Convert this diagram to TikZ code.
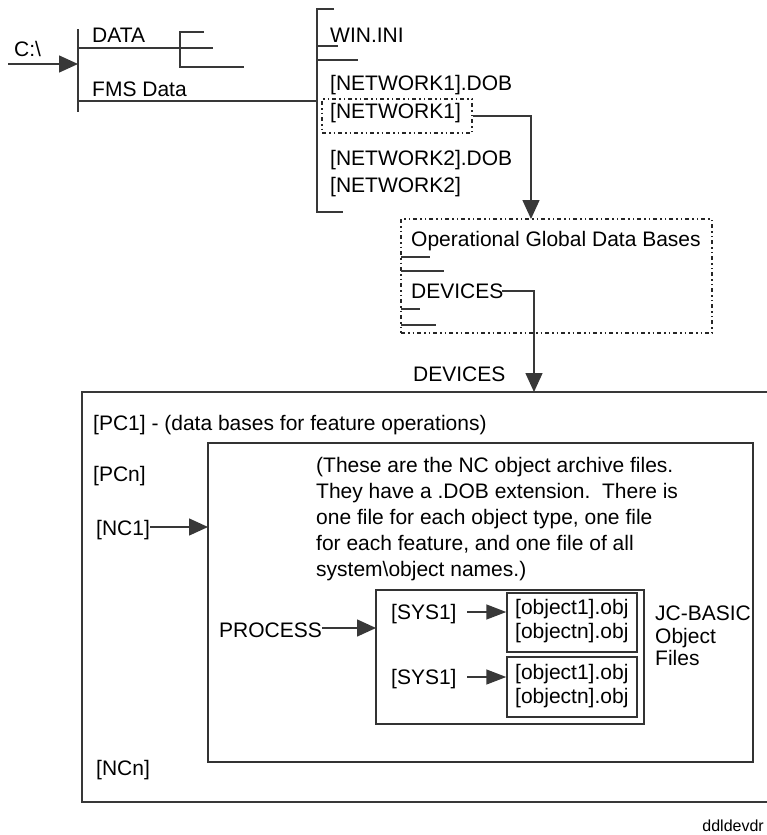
\documentclass[tikz,border=0pt]{standalone}
\usepackage{fontspec}
\setmainfont{Liberation Sans}
\usetikzlibrary{arrows.meta}
\begin{document}
\begin{tikzpicture}[x=1pt,y=-1pt,
  lbl/.style={anchor=base west, inner sep=0pt, font=\fontsize{21}{25}\selectfont},
  ln/.style={line width=1.5pt, draw=black!78},
  arr/.style={ln, -{Triangle[length=19pt,width=17pt]}},
  sarr/.style={ln, -{Triangle[length=20pt,width=15pt]}},
  dotbox/.style={line width=1.4pt, draw=black!85, inner sep=0pt,
    dash pattern=on 4pt off 3pt on 1.5pt off 3pt on 1.5pt off 3pt},
  frame/.style={line width=1.5pt, draw=black!80, inner sep=0pt}]

\useasboundingbox (0,0) rectangle (767,835);

% ---- drive root ----
\node[lbl] (drive) at (14,56) {C:\textbackslash};
\coordinate (rootin) at (8,64);
\coordinate (rootbar) at (78,64);
\draw[arr] (rootin) -- (rootbar);
\draw[ln] (78,29) -- (78,112);

% DATA branch
\node[lbl] (data) at (92,42) {DATA};
\draw[ln] (78,48) -- (213,48);
\draw[ln] (204,32) -- (180,32) -- (180,67) -- (244,67);

% FMS Data branch
\node[lbl] (fms) at (92,96) {FMS Data};
\draw[ln] (78,101) -- (317,101);

% ---- FMS Data contents ----
\draw[ln] (334,9) -- (317,9) -- (317,212) -- (343,212);
\draw[ln] (317,46) -- (338,46);
\draw[ln] (317,60) -- (358,60);
\node[lbl] (win) at (330,42) {WIN.INI};
\node[lbl] (n1dob) at (330,90) {[NETWORK1].DOB};
\node[dotbox, minimum width=150pt, minimum height=34pt] (n1box) at (397,116) {};
\node[lbl] (n1) at (330,118) {[NETWORK1]};
\node[lbl] (n2dob) at (330,165) {[NETWORK2].DOB};
\node[lbl] (n2) at (330,192) {[NETWORK2]};

% ---- operational global data bases ----
\node[dotbox, minimum width=311pt, minimum height=114pt] (ogdb) at (556.5,276) {};
\node[lbl] (ogdbtxt) at (411,246) {Operational Global Data Bases};
\draw[ln] (401,257) -- (430,257);
\draw[ln] (401,271) -- (444,271);
\draw[ln] (401,309) -- (420,309);
\draw[ln] (401,325) -- (436,325);
\node[lbl] (dev) at (411,298) {DEVICES};

\coordinate (n1drop) at (531,219);
\draw[arr] (n1box.east) -| (n1drop);

% ---- devices ----
\node[lbl] (devlbl) at (413,381) {DEVICES};
\coordinate (devout) at (502,291);
\coordinate (devdrop) at (534,392);
\draw[arr] (devout) -| (devdrop);

\draw[ln] (767,392) -- (82,392) -- (82,802) -- (767,802);
\node[lbl] (pc1) at (93,430) {[PC1] - (data bases for feature operations)};
\node[lbl] (pcn) at (93,481) {[PCn]};
\node[lbl] (nc1) at (96,535) {[NC1]};
\node[lbl] (ncn) at (96,775) {[NCn]};

% ---- NC object archive ----
\node[frame, minimum width=545pt, minimum height=319pt] (archive) at (480.5,602.5) {};
\coordinate (nc1out) at (150,527);
\coordinate (archin) at (208,527);
\draw[arr] (nc1out) -- (archin);

\node[lbl] (note1) at (316,472) {(These are the NC object archive files.};
\node[lbl] (note2) at (316,498) {They have a .DOB extension.\ \ There is};
\node[lbl] (note3) at (316,524) {one file for each object type, one file};
\node[lbl] (note4) at (316,550) {for each feature, and one file of all};
\node[lbl] (note5) at (316,576) {system\textbackslash object names.)};

% ---- process / systems ----
\node[lbl] (proc) at (219,637) {PROCESS};
\node[frame, minimum width=268pt, minimum height=134pt] (sysbox) at (510,657) {};
\coordinate (procout) at (322,628);
\coordinate (sysin) at (376,628);
\draw[arr] (procout) -- (sysin);

\node[frame, minimum width=130pt, minimum height=59pt] (obja) at (572,622.5) {};
\node[frame, minimum width=130pt, minimum height=60pt] (objb) at (572,687) {};
\node[lbl] at (515,614) {[object1].obj};
\node[lbl] at (515,638) {[objectn].obj};
\node[lbl] at (515,679) {[object1].obj};
\node[lbl] at (515,703) {[objectn].obj};

\node[lbl] (sysa) at (391,619) {[SYS1]};
\node[lbl] (sysb) at (391,684) {[SYS1]};
\coordinate (sysaout) at (467,612);
\coordinate (sysbout) at (467,677);
\draw[sarr] (sysaout) -- (sysaout -| obja.west);
\draw[sarr] (sysbout) -- (sysbout -| objb.west);

\node[lbl] (jc1) at (655,620) {JC-BASIC};
\node[lbl] (jc2) at (655,643) {Object};
\node[lbl] (jc3) at (655,665) {Files};

\node[anchor=base east, inner sep=0pt, font=\fontsize{16}{19}\selectfont] (tag) at (764,831) {ddldevdr};
\end{tikzpicture}
\end{document}
